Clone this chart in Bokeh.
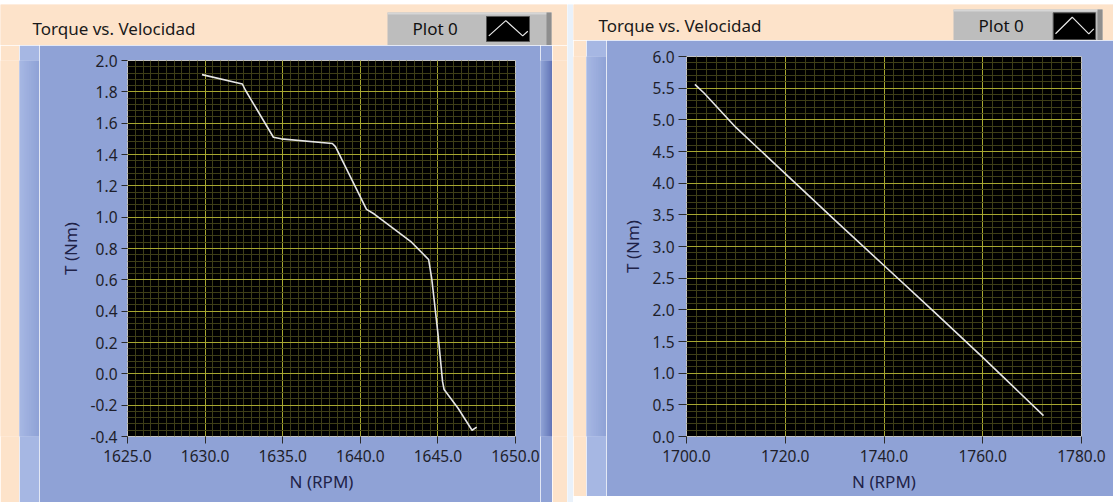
from bokeh.plotting import figure
from bokeh.layouts import row, column
from bokeh.models import Range1d, FixedTicker, NumeralTickFormatter
from bokeh.core.properties import value
from bokeh.embed import file_html
from bokeh.resources import INLINE

# ---------------- data ----------------
title_text = "Torque vs. Velocidad"
legend_text = "Plot 0"
x_label = "N (RPM)"
y_label = "T (Nm)"

# left chart
n_left = [1629.8, 1632.4, 1632.6, 1634.4, 1634.9, 1638.2, 1638.4, 1640.4, 1640.9,
          1642.1, 1643.3, 1644.2, 1644.4, 1644.6, 1645.0, 1645.3, 1645.4, 1646.3,
          1647.2, 1647.5]
t_left = [1.91, 1.85, 1.81, 1.51, 1.50, 1.47, 1.45, 1.05, 1.02,
          0.93, 0.84, 0.75, 0.73, 0.61, 0.26, -0.05, -0.10, -0.22,
          -0.36, -0.34]
x_ticks_left = [1625, 1630, 1635, 1640, 1645, 1650]
y_ticks_left = [-0.4, -0.2, 0.0, 0.2, 0.4, 0.6, 0.8, 1.0, 1.2, 1.4, 1.6, 1.8, 2.0]

# right chart
n_right = [1701.7, 1703.6, 1710.0, 1720.0, 1730.0, 1740.0, 1750.0, 1760.0, 1772.3]
t_right = [5.56, 5.42, 4.88, 4.15, 3.42, 2.70, 1.98, 1.25, 0.33]
x_ticks_right = [1700, 1720, 1740, 1760, 1780]
y_ticks_right = [0.0, 0.5, 1.0, 1.5, 2.0, 2.5, 3.0, 3.5, 4.0, 4.5, 5.0, 5.5, 6.0]

# ---------------- style ----------------
FONT = "Noto Sans"
RED = "#9A1B1F"
PEACH = "#FDE3CA"
STRIPE = "#E9F1FA"
BLUE = "#8FA2D6"
LIGHT = "#A6B7E3"
DARK = "#6375B6"
MAJOR = "#A6A630"
MINOR = "#3E3E17"
TXT = "#1E1E2A"
LAB = "#1F2248"


def hex2rgb(c):
    c = c.lstrip("#")
    return tuple(int(c[i:i + 2], 16) for i in (0, 2, 4))


def lerp(c1, c2, t):
    a, b = hex2rgb(c1), hex2rgb(c2)
    return "#%02x%02x%02x" % tuple(int(round(a[i] + (b[i] - a[i]) * t)) for i in range(3))


def blank(w, h, color, inv=False):
    f = figure(width=w, height=h, x_range=Range1d(0, w),
               y_range=Range1d(h, 0) if inv else Range1d(0, h),
               x_axis_type=None, y_axis_type=None, toolbar_location=None,
               output_backend="svg", min_border=0, outline_line_color=None,
               background_fill_color=color, border_fill_color=color)
    f.quad(left=[0], right=[w], bottom=[0], top=[h], fill_color=color, line_color=None)
    return f


def gradient(w, h, c1, c2):
    f = blank(w, h, c1)
    lefts = list(range(w))
    rights = [x + 1.5 for x in lefts]
    cols = [lerp(c1, c2, i / max(w - 1, 1)) for i in lefts]
    f.quad(left=lefts, right=rights, bottom=[0] * w, top=[h] * w,
           fill_color=cols, line_color=None)
    return f


def header(w, h, tx, ty, box, icon, pts):
    f = blank(w, h, PEACH, inv=True)
    bl, br, bt, bb = box
    f.quad(left=[bl], right=[br], top=[bt], bottom=[bb], fill_color="#BDBDBD", line_color=None)
    f.quad(left=[bl], right=[br], top=[bt], bottom=[bt + 2], fill_color="#D6D6D6", line_color=None)
    f.quad(left=[br - 5], right=[br], top=[bt], bottom=[bb], fill_color="#8E8E8E", line_color=None)
    f.text(x=[tx], y=[ty], text=[title_text], text_font=value(FONT),
           text_font_size=value("17px"), text_color="#1A1A1A",
           text_baseline="middle", text_align="left")
    f.text(x=[bl + 25], y=[ty], text=[legend_text], text_font=value(FONT),
           text_font_size=value("17px"), text_color="#111111",
           text_baseline="middle", text_align="left")
    il, ir, it, ib = icon
    f.quad(left=[il], right=[ir], top=[it], bottom=[ib], fill_color="black",
           line_color="#555555", line_width=1)
    f.line(x=[p[0] for p in pts], y=[p[1] for p in pts], line_color="#E8E8E8", line_width=1.2)
    return f


def chart(w, h, bl, br, bt, bb, xr, yr, xt, xminor, yt, yminor, xs, ys, ystand, ytick_out):
    p = figure(width=w, height=h, x_range=Range1d(*xr), y_range=Range1d(*yr),
               toolbar_location=None, output_backend="svg",
               min_border_left=bl, min_border_right=br, min_border_top=bt,
               min_border_bottom=bb, background_fill_color="black",
               border_fill_color=BLUE, outline_line_color="#C4C4C4",
               outline_line_width=1, x_axis_label=x_label, y_axis_label=y_label)
    p.xaxis.ticker = FixedTicker(ticks=xt, minor_ticks=xminor)
    p.yaxis.ticker = FixedTicker(ticks=yt, minor_ticks=yminor)
    p.axis.formatter = NumeralTickFormatter(format="0.0")
    p.axis.axis_line_color = None
    p.axis.minor_tick_line_color = None
    p.axis.major_tick_line_color = "#2A2A2A"
    p.axis.major_tick_in = 0
    p.xaxis.major_tick_out = 7
    p.yaxis.major_tick_out = ytick_out
    p.axis.major_label_text_font = FONT
    p.axis.major_label_text_font_size = "15.5px"
    p.axis.major_label_text_color = TXT
    p.axis.axis_label_text_font = FONT
    p.axis.axis_label_text_font_size = "17px"
    p.axis.axis_label_text_font_style = "normal"
    p.axis.axis_label_text_color = LAB
    p.xaxis.major_label_standoff = 6
    p.yaxis.major_label_standoff = ystand
    p.xaxis.axis_label_standoff = 5
    p.yaxis.axis_label_standoff = 6
    p.xgrid.minor_grid_line_color = MINOR
    p.ygrid.minor_grid_line_color = MINOR
    p.grid.minor_grid_line_width = 1
    p.grid.grid_line_color = MAJOR
    p.grid.grid_line_width = 1
    p.grid.level = "underlay"
    p.line(xs, ys, line_color="#E6E6E6", line_width=1.6)
    return p


# minor tick positions
x_minor_left = [1625 + 0.5 * i for i in range(51)]
y_minor_left = [-0.4 + 0.04 * i for i in range(61)]
x_minor_right = [1700 + 2 * i for i in range(41)]
y_minor_right = [0.1 * i for i in range(61)]

left_chart = chart(501, 457, 88, 25, 15, 66, (1625, 1650), (-0.4, 2.0),
                   x_ticks_left, x_minor_left, y_ticks_left, y_minor_left,
                   n_left, t_left, 4, 6)
right_chart = chart(507, 456, 80, 32, 16, 60, (1700, 1780), (0, 6),
                    x_ticks_right, x_minor_right, y_ticks_right, y_minor_right,
                    n_right, t_right, 4, 8)

left_header = header(567, 41, 32, 24, (387, 551, 8, 44), (486, 529, 12, 37),
                     [(488.3, 31.4), (505.3, 16.1), (522.2, 31.4), (527.3, 26.8)])
right_header = header(540, 36, 25, 21, (380, 529, 5, 40), (479.7, 522, 8.3, 35.3),
                      [(482.0, 29.3), (498.7, 12.7), (515.3, 29.3), (520.3, 24.3)])

left_block = column(
    left_header,
    row(blank(19, 457, PEACH), gradient(20, 457, LIGHT, BLUE), left_chart,
        gradient(12, 457, BLUE, DARK), blank(15, 457, PEACH)),
)
right_block = column(
    right_header,
    row(blank(13, 456, PEACH), gradient(20, 456, LIGHT, BLUE), right_chart),
    blank(540, 6, PEACH),
)

page = column(blank(1113, 4, RED), row(left_block, blank(6, 498, STRIPE), right_block))

open("out.html", "w").write(file_html(page, INLINE))
